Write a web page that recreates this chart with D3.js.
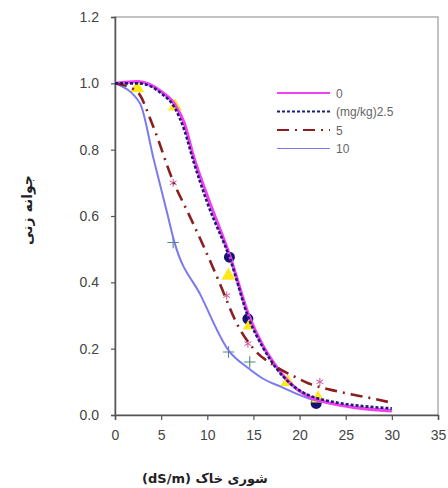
<!DOCTYPE html>
<html>
<head>
<meta charset="utf-8">
<script src="https://cdn.jsdelivr.net/npm/d3@7"></script>
<style>
  body { margin: 0; background: #fff; }
  svg { display: block; }
</style>
</head>
<body>
<div id="chart"></div>
<script>
const width = 448
const height = 488

// fitted curves (salinity dS/m, germination fraction)
const curve0X = [0, 2.5, 5, 6.5, 7.5, 8.5, 10, 12.5, 14.5, 16, 17.5, 19, 22, 30]
const curve0Y = [1.0, 1.005, 0.975, 0.935, 0.88, 0.78, 0.66, 0.475, 0.3, 0.21, 0.145, 0.095, 0.045, 0.012]
const curve25X = [0, 2.5, 5, 6.5, 7.5, 8.5, 10, 12.5, 14.5, 16, 17.5, 19, 22, 30]
const curve25Y = [1.0, 1.0, 0.97, 0.925, 0.86, 0.765, 0.64, 0.468, 0.29, 0.205, 0.14, 0.095, 0.05, 0.02]
const curve5X = [0, 2.4, 4, 6.3, 8, 9.5, 11, 13.5, 15, 17.5, 19.5, 21, 23.5, 27, 30]
const curve5Y = [1.0, 0.975, 0.88, 0.705, 0.605, 0.515, 0.42, 0.26, 0.2, 0.145, 0.115, 0.095, 0.075, 0.055, 0.037]
const curve10X = [0, 2.7, 4.2, 5.6, 6.4, 9.3, 12.3, 14.5, 16, 18, 21, 30]
const curve10Y = [1.0, 0.94, 0.77, 0.615, 0.525, 0.36, 0.195, 0.14, 0.11, 0.085, 0.05, 0.015]

// observed points
const circleX = [12.4, 14.4, 21.8]
const circleY = [0.476, 0.29, 0.035]
const triX = [2.4, 6.5, 12.3, 14.6, 18.7, 22]
const triY = [0.985, 0.93, 0.42, 0.27, 0.1, 0.05]
const starX = [6.3, 12.1, 14.4, 22.2]
const starY = [0.70, 0.36, 0.215, 0.10]
const plusX = [6.3, 12.3, 14.6]
const plusY = [0.52, 0.19, 0.16]

const legendLabels = ["0", "(mg/kg)2.5", "5", "10"]
const xTicks = [0, 5, 10, 15, 20, 25, 30, 35]
const yTicks = [0, 0.2, 0.4, 0.6, 0.8, 1.0, 1.2]

const series = [
  { label: legendLabels[0], xs: curve0X, ys: curve0Y, color: "#f040f0", width: 3.2, dash: null },
  { label: legendLabels[1], xs: curve25X, ys: curve25Y, color: "#1c1c7a", width: 2.6, dash: "3,2" },
  { label: legendLabels[2], xs: curve5X, ys: curve5Y, color: "#8a1f1f", width: 2.6, dash: "12,6,2,6" },
  { label: legendLabels[3], xs: curve10X, ys: curve10Y, color: "#7a7af0", width: 2, dash: null }
]

const svg = d3.select("#chart").append("svg")
  .attr("width", width)
  .attr("height", height)

const x = d3.scaleLinear().domain([0, 35]).range([115, 438])
const y = d3.scaleLinear().domain([0, 1.2]).range([415, 17])

// frame
svg.append("rect")
  .attr("x", x(0)).attr("y", y(1.2))
  .attr("width", x(35) - x(0)).attr("height", y(0) - y(1.2))
  .attr("fill", "none").attr("stroke", "#999").attr("stroke-width", 1.2)

// axes
svg.append("g")
  .attr("transform", "translate(0," + y(0) + ")")
  .call(d3.axisBottom(x).tickValues(xTicks).tickSize(5).tickPadding(10).tickFormat(d3.format("d")))
svg.append("g")
  .attr("transform", "translate(" + x(0) + ",0)")
  .call(d3.axisLeft(y).tickValues(yTicks).tickSize(4).tickPadding(12).tickFormat(d3.format(".1f")))

svg.selectAll(".domain").attr("stroke", "#555").attr("stroke-width", 1.5)
svg.selectAll(".tick line").attr("stroke", "#555").attr("stroke-width", 1.2)
svg.selectAll(".tick text")
  .attr("font-family", "Liberation Sans, Arial, sans-serif")
  .attr("font-size", 14)
  .attr("fill", "#444")

// markers below the lines
svg.append("g").selectAll("circle")
  .data(circleX)
  .enter()
  .append("circle")
  .attr("cx", d => x(d))
  .attr("cy", (d, i) => y(circleY[i]))
  .attr("r", 5.5)
  .attr("fill", "#141470")

svg.append("g").selectAll("path")
  .data(triX)
  .enter()
  .append("path")
  .attr("d", d3.symbol().type(d3.symbolTriangle).size(85))
  .attr("transform", (d, i) => "translate(" + x(d) + "," + y(triY[i]) + ")")
  .attr("fill", "#ffe81a")

svg.append("g").selectAll("path")
  .data(starX)
  .enter()
  .append("path")
  .attr("d", d3.symbol().type(d3.symbolAsterisk).size(45))
  .attr("transform", (d, i) => "translate(" + x(d) + "," + y(starY[i]) + ")")
  .attr("fill", "none")
  .attr("stroke", "#cc5599")
  .attr("stroke-width", 1)

svg.append("g").selectAll("path")
  .data(plusX)
  .enter()
  .append("path")
  .attr("d", d3.symbol().type(d3.symbolPlus).size(45))
  .attr("transform", (d, i) => "translate(" + x(d) + "," + y(plusY[i]) + ")")
  .attr("fill", "none")
  .attr("stroke", "#4d8a80")
  .attr("stroke-width", 1.1)

// draw 0 and 10 first, dashed ones on top
const order = [3, 0, 2, 1]
order.forEach(function (k) {
  const s = series[k]
  const line = d3.line()
    .x((d, i) => x(s.xs[i]))
    .y(d => y(d))
    .curve(d3.curveMonotoneX)
  svg.append("path")
    .datum(s.ys)
    .attr("d", line)
    .attr("fill", "none")
    .attr("stroke", s.color)
    .attr("stroke-width", s.width)
    .attr("stroke-dasharray", s.dash)
})

// legend
const legend = svg.append("g")
series.forEach(function (s, i) {
  const ly = 93 + i * 18.5
  legend.append("line")
    .attr("x1", 277).attr("x2", 330)
    .attr("y1", ly).attr("y2", ly)
    .attr("stroke", s.color)
    .attr("stroke-width", i === 3 ? 1.2 : 2)
    .attr("stroke-dasharray", s.dash)
  legend.append("text")
    .attr("x", 336).attr("y", ly + 4.5)
    .attr("font-family", "Liberation Sans, Arial, sans-serif")
    .attr("font-size", 12)
    .attr("fill", "#666")
    .text(s.label)
})

// axis titles
svg.append("text")
  .attr("x", 205).attr("y", 483)
  .attr("text-anchor", "middle")
  .attr("font-family", "DejaVu Sans, sans-serif")
  .attr("font-size", 13)
  .attr("font-weight", "bold")
  .attr("fill", "#222")
  .text("(dS/m) شوری خاک")

svg.append("text")
  .attr("transform", "translate(32,210) rotate(-90)")
  .attr("text-anchor", "middle")
  .attr("font-family", "DejaVu Sans, sans-serif")
  .attr("font-size", 14)
  .attr("font-weight", "bold")
  .attr("fill", "#222")
  .text("جوانه زنی")
</script>
</body>
</html>
